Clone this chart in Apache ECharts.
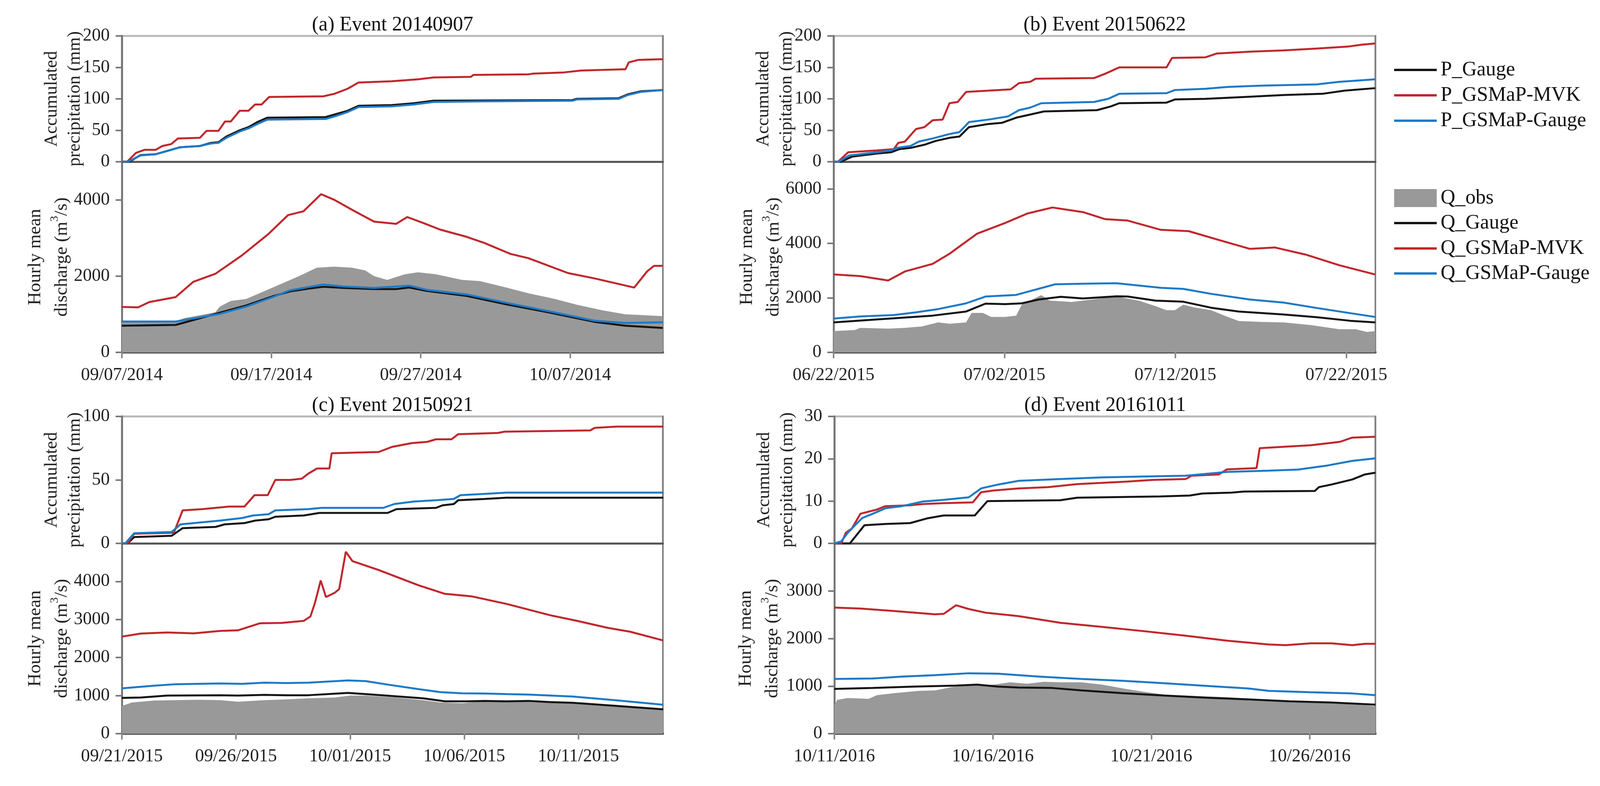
<!DOCTYPE html>
<html>
<head>
<meta charset="utf-8">
<script src="https://cdn.jsdelivr.net/npm/echarts@6/dist/echarts.min.js"></script>
<style>
html,body{margin:0;padding:0;background:#fff;overflow:hidden;}
#chart{width:100vw;height:2012px;}
</style>
</head>
<body>
<div id="chart"></div>
<script>
// ---------- Panel meta ----------
const panelTitles = ['(a) Event 20140907', '(b) Event 20150622', '(c) Event 20150921', '(d) Event 20161011'];
const startDates = ['2014-09-07', '2015-06-22', '2015-09-21', '2016-10-11'];
const dayRanges = [36.2, 31.7, 23.7, 17.07];
const dayTickStep = [10, 10, 5, 5];
const precipMax = [200, 200, 100, 30];
const precipStep = [50, 50, 50, 10];
const qMax = [5000, 7000, 5000, 4000];
const qStep = [2000, 2000, 1000, 1000];
const seriesNamesP = ['P_Gauge', 'P_GSMaP-MVK', 'P_GSMaP-Gauge'];
const seriesNamesQ = ['Q_obs', 'Q_Gauge', 'Q_GSMaP-MVK', 'Q_GSMaP-Gauge'];

// ---------- (a) Event 20140907 : [day since start, value] ----------
const a_P_Gauge = [[0,0],[0.5,0],[1.24,10.5],[2.27,12],[3.16,18],[3.89,23],[5.22,25],[5.96,30],[6.46,31],[6.99,40],[7.88,50],[8.47,55],[9.06,63],[9.73,70],[13.63,71],[14.22,75],[15.1,81],[15.84,89],[18.05,90],[19.53,93],[20.86,97],[30.15,98],[30.44,100],[33.24,101],[33.84,107],[34.72,112],[36.19,114]];
const a_P_MVK = [[0,0],[0.35,0],[0.94,14],[1.53,19],[2.27,19],[2.71,25],[3.3,28],[3.75,37],[5.22,38],[5.66,49],[6.46,49],[6.9,64],[7.29,64],[7.88,81],[8.47,81],[8.91,91],[9.35,91],[9.85,103],[13.48,104],[14.22,108],[15.1,116],[15.84,126],[18.05,128],[19.82,131],[20.86,134],[23.36,135],[23.51,138],[27.2,139],[27.49,140],[29.56,142],[30.74,145],[33.69,147],[33.92,158],[34.57,162],[36.19,163]];
const a_P_GG = [[0,0],[0.4,0],[1.24,10],[2.27,12],[3.16,18],[3.89,23],[5.22,25],[5.96,29],[6.46,30],[6.99,38],[7.88,48],[8.47,53],[9.06,60],[9.73,67],[13.63,68],[14.22,72],[15.1,79],[15.84,87],[18.05,88],[19.53,91],[20.86,95],[24,96],[30.15,97],[30.44,99],[33.24,100],[33.84,106],[34.72,111],[36.19,114]];
const a_Q_obs = [[0,800],[3.6,820],[4.19,900],[6.25,1050],[6.55,1200],[7.29,1350],[8.32,1400],[9.5,1600],[10.68,1800],[11.86,2000],[13.04,2220],[14.22,2250],[15.4,2220],[16.28,2150],[16.87,2000],[17.76,1900],[18.94,2050],[19.82,2100],[21.0,2050],[22.77,1900],[23.95,1870],[25.72,1700],[27.2,1550],[28.97,1400],[30.44,1250],[32.21,1100],[33.69,1000],[36.19,950]];
const a_Q_Gauge = [[0,700],[3.6,720],[6.55,1040],[8.32,1230],[10.09,1470],[11.27,1600],[12.45,1670],[13.48,1720],[14.81,1690],[16.87,1660],[18.35,1660],[19.23,1700],[20.41,1610],[23.07,1480],[25.72,1260],[28.67,1040],[30.15,920],[31.62,800],[33.69,700],[36.19,640]];
const a_Q_MVK = [[0,1190],[1.09,1180],[1.83,1320],[3.6,1450],[4.78,1850],[6.25,2060],[8.02,2540],[9.79,3100],[11.12,3600],[12.15,3700],[13.33,4150],[14.22,4000],[15.4,3740],[16.87,3430],[18.35,3370],[19.09,3550],[20.12,3400],[21.3,3220],[23.07,3030],[24.25,2870],[26.02,2580],[27.2,2470],[29.85,2080],[31.62,1940],[34.28,1700],[35.16,2130],[35.61,2270],[36.19,2270]];
const a_Q_GG = [[0,810],[3.6,810],[4.78,890],[6.55,1010],[8.32,1200],[10.09,1450],[11.27,1630],[13.48,1780],[14.81,1730],[16.87,1690],[19.23,1750],[20.41,1640],[23.07,1520],[25.72,1300],[28.67,1070],[30.15,950],[31.62,830],[33.69,770],[36.19,790]];

// ---------- (b) Event 20150622 ----------
const b_P_Gauge = [[0,0],[0.42,0],[1.07,8],[2.54,13],[3.36,15],[3.84,20],[4.5,22],[5.31,27],[5.96,33],[6.78,38],[7.36,40],[7.92,55],[9.06,60],[9.87,62],[10.68,70],[11.5,75],[12.31,80],[15.41,82],[16.22,88],[16.71,93],[19.48,94],[19.97,99],[21.76,100],[24.04,103],[26.32,106],[28.6,108],[29.9,113],[31.69,117]];
const b_P_MVK = [[0,0],[0.26,0],[0.85,15],[2.54,18],[3.52,20],[3.78,30],[4.17,32],[4.82,52],[5.31,55],[5.8,66],[6.38,67],[6.78,93],[7.26,95],[7.75,111],[9.06,113],[10.36,115],[10.85,125],[11.5,127],[11.82,132],[15.24,133],[15.9,140],[16.71,150],[19.48,150],[19.8,165],[21.76,166],[22.41,172],[24.36,175],[26.32,177],[28.27,180],[30.07,183],[30.88,186],[31.69,188]];
const b_P_GG = [[0,0],[0.3,0],[0.91,10],[2.54,15],[3.36,18],[3.68,22],[4.5,25],[4.98,32],[5.8,37],[6.78,44],[7.36,47],[7.92,63],[9.06,67],[10.2,72],[10.85,82],[11.5,86],[12.15,93],[15.24,95],[16.06,100],[16.71,108],[19.48,109],[19.97,114],[21.76,116],[23.06,119],[25.02,121],[28.27,123],[29.58,127],[31.69,131]];
const b_Q_obs = [[0,780],[1.24,820],[1.56,900],[3.19,870],[4.17,900],[5.15,950],[6.12,1100],[6.78,1050],[7.75,1100],[8.08,1450],[8.73,1450],[9.22,1300],[10.03,1300],[10.68,1350],[11.01,1750],[12.15,2100],[12.64,1900],[13.94,1850],[15.24,1950],[16.55,2050],[17.85,1900],[18.83,1700],[19.48,1550],[19.97,1550],[20.46,1750],[21.11,1650],[22.08,1550],[23.06,1300],[23.71,1150],[25.02,1120],[26.32,1100],[27.95,1000],[29.58,850],[30.55,850],[31.21,750],[31.69,780]];
const b_Q_Gauge = [[0,1100],[3.52,1250],[5.8,1350],[7.75,1500],[8.89,1790],[10.03,1770],[11.01,1800],[11.99,1940],[13.29,2040],[14.59,1980],[16.55,2060],[17.2,2050],[18.83,1900],[20.46,1860],[22.08,1640],[23.71,1500],[26.32,1390],[28.27,1290],[30.23,1160],[31.69,1100]];
const b_Q_MVK = [[0,2860],[1.56,2800],[3.19,2640],[4.17,2970],[5.8,3250],[6.78,3620],[8.4,4360],[10.03,4750],[11.34,5100],[12.8,5320],[14.59,5150],[15.9,4890],[17.2,4840],[19.15,4500],[20.78,4450],[22.41,4150],[24.36,3800],[25.83,3850],[27.62,3590],[29.58,3200],[31.69,2860]];
const b_Q_GG = [[0,1240],[1.56,1320],[3.52,1370],[4.82,1470],[6.12,1590],[7.75,1800],[8.89,2050],[10.68,2110],[11.5,2250],[12.96,2500],[14.59,2520],[16.55,2540],[19.15,2370],[20.46,2330],[22.08,2150],[24.36,1940],[26.32,1830],[28.27,1630],[30.23,1440],[31.69,1300]];

// ---------- (c) Event 20150921 ----------
const c_P_Gauge = [[0,0],[0.25,0],[0.54,5],[2.18,6],[2.66,12],[4.11,13],[4.5,15],[5.37,16],[5.85,18],[6.43,19],[6.72,21],[7.97,22],[8.65,24],[11.64,24],[12.03,27],[13.76,28],[14.05,30],[14.54,31],[14.73,34],[15.89,35],[16.85,36],[23.71,36]];
const c_P_MVK = [[0,0],[0.25,0],[0.54,7.6],[2.28,8.4],[2.66,26],[3.53,27],[4.69,29],[5.37,29],[5.81,38],[6.39,38],[6.72,50],[7.39,50],[7.88,51],[8.17,55],[8.55,59],[9.09,59],[9.19,71],[11.25,72],[11.83,76],[12.7,79],[13.38,80],[13.76,82],[14.44,82],[14.73,86],[16.47,87],[16.76,88],[20.52,89],[20.71,91],[21.68,92],[23.71,92]];
const c_P_GG = [[0,0],[0.15,0],[0.54,8],[2.18,9],[2.57,15],[3.15,16],[4.31,18],[5.27,20],[5.75,22],[6.43,23],[6.72,26],[8.17,27],[8.75,28],[11.45,28],[11.93,31],[12.8,33],[13.76,34],[14.54,35],[14.83,38],[15.89,39],[16.85,40],[23.71,40]];
const c_Q_obs = [[0,730],[0.44,820],[1.41,870],[2.37,880],[3.34,890],[4.31,880],[5.08,840],[6.24,880],[7.2,900],[8.17,930],[9.32,950],[10.0,1000],[10.68,1000],[12.03,950],[13.19,880],[13.96,820],[14.92,800],[15.89,850],[16.85,850],[17.82,830],[18.78,820],[19.75,800],[21.68,710],[23.71,630]];
const c_Q_Gauge = [[0,940],[0.83,950],[1.99,1000],[4.31,1010],[5.08,1000],[6.24,1020],[7.2,1010],[8.17,1010],[9.9,1070],[10.68,1040],[12.03,980],[13.19,930],[14.15,850],[15.12,850],[15.89,860],[16.85,850],[17.82,860],[18.78,830],[19.75,810],[21.68,730],[23.71,640]];
const c_Q_MVK = [[0,2550],[0.83,2630],[1.99,2660],[3.15,2635],[4.31,2700],[5.08,2715],[6.04,2900],[7.01,2910],[7.97,2965],[8.26,3080],[8.46,3440],[8.71,4025],[8.94,3590],[9.32,3700],[9.52,3800],[9.81,4780],[10.1,4535],[11.25,4300],[12.99,3900],[14.15,3675],[15.31,3610],[16.85,3410],[18.78,3110],[19.94,2965],[21.29,2780],[22.26,2680],[23.71,2450]];
const c_Q_GG = [[0,1190],[1.41,1260],[2.37,1300],[4.31,1320],[5.27,1310],[6.24,1340],[7.2,1330],[8.17,1340],[9.9,1400],[10.68,1380],[11.64,1290],[12.99,1170],[13.96,1090],[14.92,1060],[15.89,1055],[16.85,1040],[17.82,1026],[19.75,975],[21.68,875],[23.71,760]];

// ---------- (d) Event 20161011 ----------
const d_P_Gauge = [[0,0],[0.49,0],[0.95,4.3],[1.61,4.6],[2.39,4.8],[2.92,5.9],[3.45,6.6],[4.43,6.6],[4.83,10],[7.13,10.2],[7.66,10.8],[10.29,11.1],[11.21,11.3],[11.61,11.8],[12.53,12],[12.92,12.25],[15.16,12.4],[15.29,13.3],[15.68,13.9],[16.34,15.1],[16.74,16.3],[17.07,16.7]];
const d_P_MVK = [[0,0],[0.22,0],[0.36,2.5],[0.55,3.5],[0.82,7],[1.08,7.5],[1.34,8],[1.61,8.8],[2.39,9],[2.79,9.3],[3.45,9.5],[4.37,9.7],[4.63,12.1],[5.03,12.5],[5.82,13],[6.74,13.3],[7.66,14],[9.24,14.6],[10.03,15],[11.08,15.2],[11.28,16],[12.13,16.3],[12.39,17.5],[13.32,17.8],[13.42,22.5],[14.11,22.8],[15.03,23.2],[15.95,24],[16.34,25],[17.07,25.2]];
const d_P_GG = [[0,0],[0.22,0.5],[0.42,2.5],[0.68,4.5],[0.88,6],[1.21,7],[1.61,8.3],[2.13,8.8],[2.79,9.9],[3.45,10.3],[4.24,10.9],[4.63,13],[5.16,13.9],[5.82,14.8],[7.13,15.2],[8.45,15.6],[9.76,15.8],[11.08,16],[12.39,16.9],[13.71,17.2],[14.63,17.45],[15.55,18.4],[16.34,19.5],[17.07,20.1]];
const d_Q_obs = [[0,600],[0.09,710],[0.42,750],[0.82,740],[1.08,730],[1.34,810],[1.87,850],[2.66,900],[3.18,910],[3.71,980],[4.37,1010],[5.03,1030],[5.55,1080],[6.08,1050],[6.61,1090],[7.13,1080],[7.79,1080],[8.45,1030],[9.11,950],[9.76,880],[10.42,820],[11.08,800],[12.39,765],[13.71,710],[15.03,660],[16.34,620],[17.07,580]];
const d_Q_Gauge = [[0,940],[1.21,960],[2.53,990],[3.84,1010],[4.5,1030],[5.16,990],[5.82,970],[6.87,960],[7.79,910],[9.11,850],[10.42,800],[11.74,755],[13.05,720],[14.37,680],[15.68,655],[17.07,610]];
const d_Q_MVK = [[0,2650],[0.82,2630],[1.87,2580],[3.18,2510],[3.45,2520],[3.84,2700],[4.24,2620],[4.76,2545],[5.82,2470],[7.13,2330],[8.45,2245],[9.76,2155],[11.08,2060],[12.39,1955],[13.71,1875],[14.24,1860],[15.03,1900],[15.68,1900],[16.34,1860],[16.74,1890],[17.07,1890]];
const d_Q_GG = [[0,1150],[1.21,1160],[2.13,1200],[3.18,1230],[4.24,1270],[5.16,1260],[6.47,1200],[7.79,1150],[9.11,1110],[10.42,1060],[11.74,1005],[13.05,950],[13.71,900],[15.03,870],[16.34,845],[17.07,810]];

const precipData = [[a_P_Gauge, a_P_MVK, a_P_GG], [b_P_Gauge, b_P_MVK, b_P_GG], [c_P_Gauge, c_P_MVK, c_P_GG], [d_P_Gauge, d_P_MVK, d_P_GG]];
const flowData = [[a_Q_obs, a_Q_Gauge, a_Q_MVK, a_Q_GG], [b_Q_obs, b_Q_Gauge, b_Q_MVK, b_Q_GG], [c_Q_obs, c_Q_Gauge, c_Q_MVK, c_Q_GG], [d_Q_obs, d_Q_Gauge, d_Q_MVK, d_Q_GG]];

// ---------- Styling / layout (x positions given on a 4403-wide design, scaled to the window) ----------
const FONT = "'Liberation Serif', 'Times New Roman', serif";
const lineColors = ['#141414', '#c0282d', '#1e7ac8'];
const obsColor = '#999999';
const chartEl = document.getElementById('chart');
const W = chartEl.clientWidth || window.innerWidth;
const fx = W / 4403;
const X = v => Math.round(v * fx);

const layout = [
  {left: 335, right: 1824, top: 92, zero: 414, bottom: 902, dq: 0},
  {left: 2294, right: 3785, top: 92, zero: 414, bottom: 902, dq: 0},
  {left: 335, right: 1824, top: 1066, zero: 1391, bottom: 1878, dq: 0},
  {left: 2296, right: 3785, top: 1066, zero: 1391, bottom: 1878, dq: 5}
];
const pLH = Math.round(63 * fx), qLH = Math.round(73 * fx);
const pGap = Math.round((335 - 205) * fx - pLH / 2);
const qGap = Math.round((335 - 170) * fx - qLH / 2);

function pad(n) { return (n < 10 ? '0' : '') + n; }
function dayLabel(start, v) {
  const t = Date.parse(start + 'T00:00:00Z') + Math.round(v * 86400000);
  const d = new Date(t);
  return pad(d.getUTCMonth() + 1) + '/' + pad(d.getUTCDate()) + '/' + d.getUTCFullYear();
}
function stepValues(max, step) {
  const out = [];
  for (let v = 0; v <= max + 1e-9; v += step) out.push(v);
  return out;
}
const plainNum = v => String(v);

const grids = [], xAxes = [], yAxes = [], series = [], graphics = [];
const labelStyle = {fontFamily: FONT, fontSize: 46, color: '#222'};
const pNameStyle = {fontFamily: FONT, fontSize: 46, color: '#222', lineHeight: pLH};
const qNameStyle = {fontFamily: FONT, fontSize: 47, color: '#222', lineHeight: qLH,
  rich: {sup: {fontFamily: FONT, fontSize: 30, color: '#222', verticalAlign: 'top', lineHeight: 44}}};

layout.forEach((L, p) => {
  const left = X(L.left), w = X(L.right) - X(L.left);
  const gP = grids.length;
  grids.push({left: left, top: L.top, width: w, height: L.zero - L.top, show: true,
    borderColor: '#b8b8b8', borderWidth: 5, backgroundColor: 'transparent'});
  const gQ = grids.length;
  grids.push({left: left, top: L.zero, width: w, height: L.bottom - L.zero, show: false});

  const xP = xAxes.length;
  xAxes.push({gridIndex: gP, type: 'value', min: 0, max: dayRanges[p],
    axisLine: {show: true, onZero: false, lineStyle: {color: '#555', width: 5}},
    axisTick: {show: false}, axisLabel: {show: false}, splitLine: {show: false}});
  const xQ = xAxes.length;
  xAxes.push({gridIndex: gQ, type: 'value', min: 0, max: dayRanges[p], interval: dayTickStep[p],
    axisLine: {show: true, onZero: false, lineStyle: {color: '#555', width: 6}},
    axisTick: {show: true, length: 15, customValues: stepValues(dayRanges[p], dayTickStep[p]), lineStyle: {color: '#888', width: 4}},
    axisLabel: Object.assign({margin: 36, showMaxLabel: false, formatter: v => dayLabel(startDates[p], v)}, labelStyle),
    splitLine: {show: false}});

  const yP = yAxes.length;
  yAxes.push({gridIndex: gP, type: 'value', min: 0, max: precipMax[p], interval: precipStep[p],
    axisLine: {show: true, lineStyle: {color: '#777', width: 5}},
    axisTick: {show: true, length: 16, lineStyle: {color: '#777', width: 4}},
    axisLabel: Object.assign({margin: X(33), formatter: plainNum}, labelStyle),
    splitLine: {show: false},
    name: 'Accumulated\nprecipitation (mm)', nameLocation: 'middle', nameGap: pGap, nameMoveOverlap: false, nameTextStyle: pNameStyle});
  yAxes.push({gridIndex: gP, type: 'value', position: 'right', min: 0, max: 1,
    axisLine: {show: true, lineStyle: {color: '#808080', width: 4}},
    axisTick: {show: false}, axisLabel: {show: false}, splitLine: {show: false}});
  const yQ = yAxes.length;
  yAxes.push({gridIndex: gQ, type: 'value', min: 0, max: qMax[p], interval: qStep[p],
    axisLine: {show: true, lineStyle: {color: '#777', width: 5}},
    axisTick: {show: true, length: 16, lineStyle: {color: '#777', width: 4}},
    axisLabel: Object.assign({margin: X(33), showMaxLabel: false, formatter: plainNum}, labelStyle),
    splitLine: {show: false},
    name: 'Hourly mean\ndischarge (m{sup|3}/s)', nameLocation: 'middle', nameGap: qGap + X(L.dq), nameMoveOverlap: false, nameTextStyle: qNameStyle});
  yAxes.push({gridIndex: gQ, type: 'value', position: 'right', min: 0, max: 1,
    axisLine: {show: true, lineStyle: {color: '#808080', width: 4}},
    axisTick: {show: false}, axisLabel: {show: false}, splitLine: {show: false}});

  series.push({type: 'line', name: seriesNamesQ[0], data: flowData[p][0], xAxisIndex: xQ, yAxisIndex: yQ,
    symbol: 'none', showSymbol: false, lineStyle: {width: 0, opacity: 0},
    areaStyle: {color: obsColor, opacity: 1}, itemStyle: {color: obsColor}, z: 1, animation: false});
  for (let k = 0; k < 3; k++) {
    series.push({type: 'line', name: seriesNamesQ[k + 1], data: flowData[p][k + 1], xAxisIndex: xQ, yAxisIndex: yQ,
      symbol: 'none', showSymbol: false, lineStyle: {color: lineColors[k], width: 5},
      itemStyle: {color: lineColors[k]}, z: 3 + k, animation: false});
  }
  for (let k = 0; k < 3; k++) {
    series.push({type: 'line', name: seriesNamesP[k], data: precipData[p][k], xAxisIndex: xP, yAxisIndex: yP,
      symbol: 'none', showSymbol: false, lineStyle: {color: lineColors[k], width: 5},
      itemStyle: {color: lineColors[k]}, z: 3 + k, animation: false});
  }

  graphics.push({type: 'text', x: Math.round((X(L.left) + X(L.right)) / 2), y: L.top - 28,
    style: {text: panelTitles[p], fontFamily: FONT, fontSize: 52, fill: '#111', textAlign: 'center', textVerticalAlign: 'middle'}});
});

const legendItems = [
  {name: 'P_Gauge', cy: 179, h: 6},
  {name: 'P_GSMaP-MVK', cy: 244, h: 6},
  {name: 'P_GSMaP-Gauge', cy: 309, h: 6},
  {name: 'Q_obs', cy: 507, h: 46},
  {name: 'Q_Gauge', cy: 571, h: 6},
  {name: 'Q_GSMaP-MVK', cy: 636, h: 6},
  {name: 'Q_GSMaP-Gauge', cy: 700, h: 6}
];
const legends = legendItems.map(it => ({
  orient: 'vertical', left: X(3836), top: it.cy - 31, padding: 0, selectedMode: false,
  itemWidth: X(117), itemHeight: it.h,
  data: [{name: it.name, icon: 'rect', itemStyle: it.name === 'Q_obs' ? {color: obsColor} : undefined}],
  textStyle: {fontFamily: FONT, fontSize: 52, color: '#111', lineHeight: 62, padding: [0, 0, 0, 5]}
}));

const chart = echarts.init(chartEl, null, {renderer: 'canvas'});
chart.setOption({
  backgroundColor: '#ffffff',
  animation: false,
  grid: grids, xAxis: xAxes, yAxis: yAxes, series: series,
  legend: legends,
  graphic: graphics
});
</script>
</body>
</html>
